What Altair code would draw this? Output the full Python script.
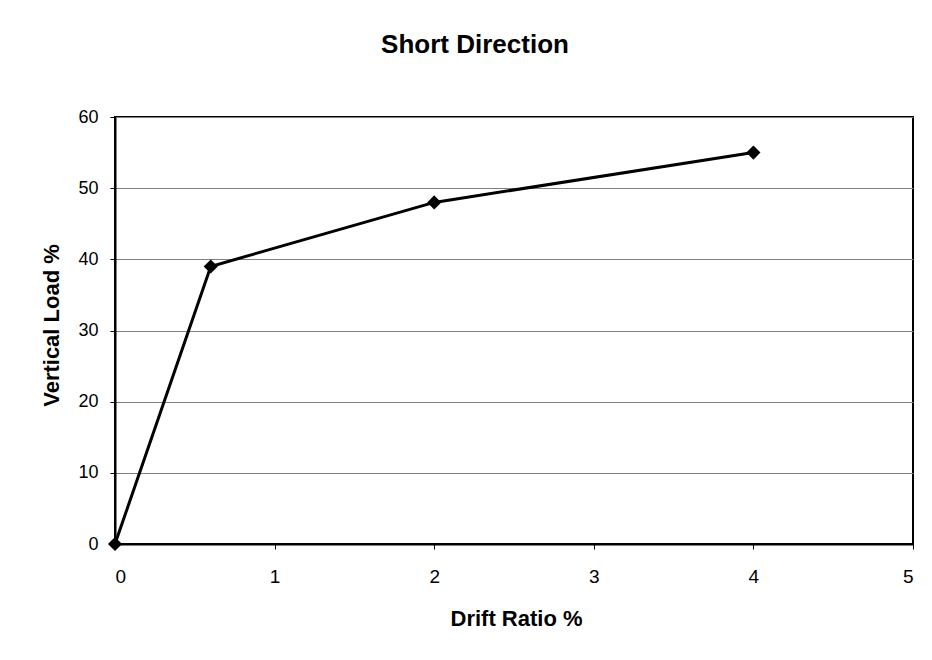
import altair as alt
import pandas as pd

drift_ratio = [0, 0.6, 2, 4]
vertical_load = [0, 39, 48, 55]

df = pd.DataFrame({"drift": drift_ratio, "load": vertical_load})

FONT = "Liberation Sans"

base = alt.Chart(df).encode(
    x=alt.X("drift:Q", scale=alt.Scale(domain=[0, 5], nice=False),
            axis=alt.Axis(values=[0, 1, 2, 3, 4, 5], title="Drift Ratio %", grid=False,
                          tickSize=5, tickColor="black", labelPadding=18,
                          labelFontSize=19, labelColor="black", labelFont=FONT,
                          titleFont=FONT, titleFontSize=22, titleFontWeight="bold",
                          titleColor="black", titleX=401, titleY=74, titleBaseline="middle",
                          domain=True, domainColor="black", domainWidth=2)),
    y=alt.Y("load:Q", scale=alt.Scale(domain=[0, 60], nice=False),
            axis=alt.Axis(values=[0, 10, 20, 30, 40, 50, 60], title="Vertical Load %",
                          grid=True, gridColor="#808080", gridWidth=1,
                          tickSize=5, tickColor="black", labelPadding=12,
                          labelFontSize=18, labelColor="black", labelFont=FONT,
                          titleFont=FONT, titleFontSize=22, titleFontWeight="bold",
                          titleColor="black", titleX=-64, titleY=208, titleAngle=-90,
                          titleAlign="center", titleBaseline="middle",
                          domain=True, domainColor="black", domainWidth=2)),
)

line = base.mark_line(color="black", strokeWidth=3)
pts = base.mark_point(shape="diamond", filled=True, color="black", size=200, opacity=1)

chart = (line + pts).properties(
    width=798, height=427,
    autosize=alt.AutoSizeParams(type="none"),
    padding={"left": 107, "top": 109, "right": 11, "bottom": 100},
    title=alt.TitleParams("Short Direction", font=FONT, fontSize=26, fontWeight="bold",
                          color="black", anchor="middle", dx=-39, offset=50),
).configure(background="white").configure_view(stroke="black", strokeWidth=2)

chart.save("out.html", embed_options={"renderer": "svg", "actions": False})
